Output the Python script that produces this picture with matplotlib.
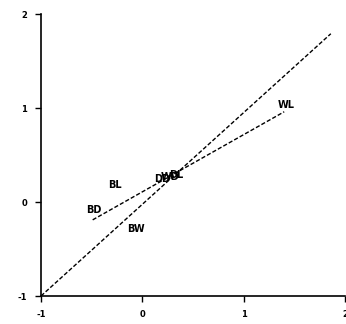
import matplotlib
matplotlib.use("Agg")
import matplotlib.pyplot as plt

# data
diag_x = [-1.0, 1.86]
diag_y = [-1.0, 1.79]
fit_x = [-0.49, 1.40]
fit_y = [-0.19, 0.96]
labels = ["BL", "BD", "BW", "WL", "DD", "WD", "DL"]
label_x = [-0.27, -0.48, -0.06, 1.42, 0.20, 0.27, 0.33]
label_y = [0.18, -0.085, -0.29, 1.03, 0.245, 0.27, 0.29]
ticks = [-1, 0, 1, 2]
tick_labels = ["-1", "0", "1", "2"]

fig = plt.figure(figsize=(3.46, 3.24), dpi=100)
ax = fig.add_axes([41/346, 28/324, 304/346, 282/324])
ax.plot(diag_x, diag_y, color="black", lw=1.0, ls=(0, (3, 1.5)))
ax.plot(fit_x, fit_y, color="black", lw=1.0, ls=(0, (3, 1.5)))
for t, x, y in zip(labels, label_x, label_y):
    ax.text(x, y, t, ha="center", va="center", fontsize=7, fontweight="bold")

ax.set_xlim(-1, 2)
ax.set_ylim(-1, 2)
ax.set_xticks(ticks)
ax.set_xticklabels(tick_labels)
ax.set_yticks(ticks)
ax.set_yticklabels(tick_labels)
for lab in ax.get_xticklabels() + ax.get_yticklabels():
    lab.set_fontsize(6)
    lab.set_fontweight("bold")
ax.tick_params(direction="out", length=4, width=1, pad=6)
ax.spines["top"].set_visible(False)
ax.spines["right"].set_visible(False)
ax.spines["left"].set_linewidth(1.2)
ax.spines["bottom"].set_linewidth(1.2)
fig.savefig("out.png", dpi=100)
